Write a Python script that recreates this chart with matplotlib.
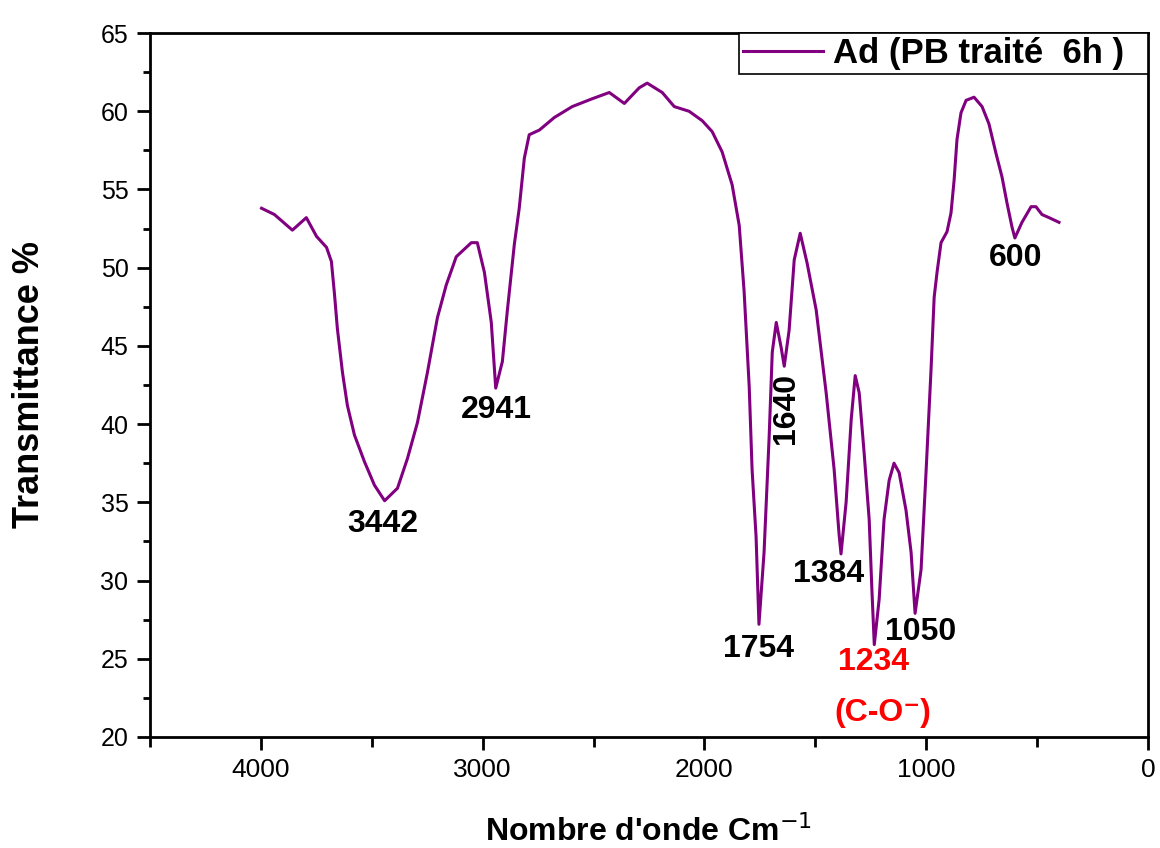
import matplotlib

matplotlib.use("Agg")
import matplotlib.pyplot as plt
from matplotlib.ticker import MultipleLocator

# FTIR spectrum
wavenumber = [3997, 3939, 3858, 3795, 3749, 3704, 3682, 3668, 3655, 3632, 3610, 3578,
              3533, 3488, 3442, 3384, 3339, 3294, 3249, 3204, 3164, 3119, 3051, 3024,
              2992, 2961, 2941, 2911, 2889, 2857, 2835, 2812, 2790, 2744, 2677, 2596,
              2506, 2429, 2361, 2294, 2258, 2190, 2136, 2069, 2010, 1965, 1920, 1875,
              1843, 1821, 1798, 1785, 1767, 1754, 1731, 1708, 1694, 1676, 1654, 1640,
              1618, 1595, 1568, 1537, 1496, 1451, 1415, 1393, 1384, 1361, 1338, 1320,
              1302, 1280, 1257, 1245, 1234, 1212, 1190, 1167, 1145, 1122, 1091, 1068,
              1050, 1023, 1000, 978, 964, 951, 933, 906, 888, 874, 861, 843, 820, 784,
              748, 717, 685, 658, 635, 613, 600, 568, 527, 505, 478, 446, 401]
transmittance = [53.8, 53.4, 52.4, 53.2, 52.0, 51.3, 50.4, 48.3, 46.1, 43.3, 41.2, 39.3,
                 37.6, 36.1, 35.1, 35.9, 37.8, 40.1, 43.3, 46.8, 48.9, 50.7, 51.6, 51.6,
                 49.7, 46.5, 42.3, 44.0, 47.2, 51.5, 53.8, 57.0, 58.5, 58.8, 59.6, 60.3,
                 60.8, 61.2, 60.5, 61.5, 61.8, 61.2, 60.3, 60.0, 59.4, 58.7, 57.4, 55.3,
                 52.7, 48.5, 42.4, 37.1, 32.8, 27.2, 31.8, 39.2, 44.6, 46.5, 44.9, 43.7,
                 46.0, 50.5, 52.2, 50.3, 47.3, 42.0, 37.1, 33.0, 31.7, 35.0, 40.3, 43.1,
                 42.0, 38.2, 33.9, 29.5, 25.9, 28.8, 33.9, 36.4, 37.5, 36.9, 34.5, 31.8,
                 27.9, 30.7, 37.1, 43.5, 48.1, 49.7, 51.6, 52.3, 53.5, 55.6, 58.2, 59.9,
                 60.7, 60.9, 60.3, 59.2, 57.3, 55.8, 54.1, 52.6, 51.9, 52.9, 53.9, 53.9,
                 53.4, 53.2, 52.9]

peak_labels = ["3442", "2941", "1640", "1754", "1384", "1234", "(C-O\u207b)", "1050", "600"]
label_x = [3452, 2938, 1631, 1758, 1438, 1239, 1194, 1027, 595]
label_y = [33.6, 40.9, 41.0, 25.6, 30.4, 24.8, 21.5, 26.7, 50.6]
label_rot = [0, 0, 90, 0, 0, 0, 0, 0, 0]
label_color = ["black"] * 5 + ["red", "red", "black", "black"]

FONT = ["Liberation Sans", "DejaVu Sans"]
plt.rcParams["font.family"] = FONT

fig = plt.figure(figsize=(11.6, 8.48), dpi=100)
ax = fig.add_axes([0.1293, 0.131, 0.8603, 0.830])

ax.plot(wavenumber, transmittance, color="#800080", linewidth=2.2,
        label="Ad (PB traité  6h )  ")

for text, x, y, rot, col in zip(peak_labels, label_x, label_y, label_rot, label_color):
    ax.text(x, y, text, ha="center", va="center", rotation=rot, color=col,
            fontsize=23, fontweight="bold")

ax.set_xlim(4500, 0)
ax.set_ylim(20, 65)
ax.xaxis.set_major_locator(MultipleLocator(1000))
ax.xaxis.set_minor_locator(MultipleLocator(500))
ax.yaxis.set_major_locator(MultipleLocator(5))
ax.yaxis.set_minor_locator(MultipleLocator(2.5))
ax.tick_params(which="major", direction="out", length=9.5, width=2, pad=6)
ax.tick_params(which="minor", direction="out", length=5, width=2)
ax.tick_params(axis="x", which="minor", length=7)
ax.tick_params(axis="x", labelsize=19)
ax.tick_params(axis="y", labelsize=18)
for spine in ax.spines.values():
    spine.set_linewidth(2)

ax.set_xlabel("Nombre d'onde Cm$^{-1}$", fontsize=23, fontweight="bold")
ax.set_ylabel("Transmittance %", fontsize=26, fontweight="bold")
ax.xaxis.set_label_coords(0.5, -0.112)
ax.yaxis.set_label_coords(-0.103, 0.5)

leg = ax.legend(loc="upper right", fancybox=False, edgecolor="black", framealpha=1,
                borderaxespad=0, borderpad=0.12, handlelength=2.3, handletextpad=0.3,
                prop={"weight": "bold", "size": 25})
leg.get_frame().set_linewidth(1.2)

fig.savefig("out.png", dpi=100, facecolor="white")
